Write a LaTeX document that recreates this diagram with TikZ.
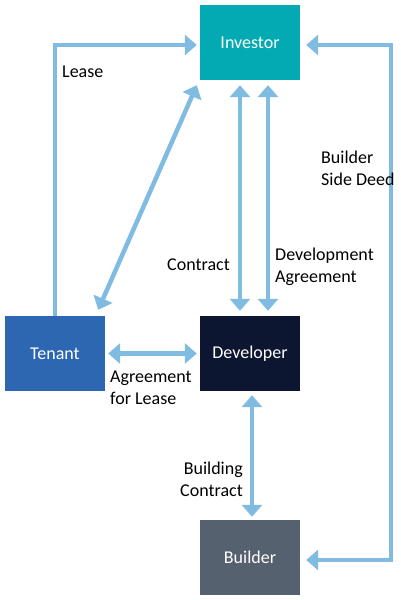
\documentclass[tikz,border=0pt]{standalone}
\usepackage{fontspec}
\setmainfont{Carlito}
\usetikzlibrary{arrows.meta,calc}
\definecolor{arrowblue}{HTML}{80BBE2}
\definecolor{investorc}{HTML}{03AAB4}
\definecolor{tenantc}{HTML}{2D67B2}
\definecolor{developerc}{HTML}{0C1631}
\definecolor{builderc}{HTML}{56616F}
\begin{document}
\begin{tikzpicture}[x=1pt,y={(0pt,-1pt)},
  box/.style={minimum width=100pt,minimum height=75pt,inner sep=0pt,text=white,font=\fontsize{18}{22}\selectfont},
  lbl/.style={inner sep=0pt,font=\fontsize{18}{22}\selectfont,text=black},
  conn/.style={draw=arrowblue,line width=4.5pt},
  tip/.tip={Triangle[width=20pt,length=12pt]},
  one/.style={conn,-tip},
  two/.style={conn,tip-tip}]
\useasboundingbox (0,0) rectangle (400,600);
\node[box,fill=investorc] (investor) at (250,42.5) {Investor};
\node[box,fill=tenantc] (tenant) at (55,353.5) {Tenant};
\node[box,fill=developerc] (developer) at (250,353.5) {Developer};
\node[box,fill=builderc] (builder) at (250,557.5) {Builder};
\coordinate (rc) at (391,45);
% Lease
\draw[one] (tenant.north) |- ($(investor.west)+(-3,2.5)$);
% Builder side deed
\draw[two] ($(investor.east)+(6,2.5)$) -- (rc) |- ($(builder.east)+(6,2.5)$);
% diagonal
\draw[two] ($(tenant.north east)+(-7,-6)$) -- ($(investor.south west)+(-3,5)$);
% contract / development agreement
\draw[two] ($(investor.south)+(-10,5)$) -- ($(developer.north)+(-10,-5)$);
\draw[two] ($(investor.south)+(18,5)$) -- ($(developer.north)+(18,-5)$);
% agreement for lease
\draw[two] ($(tenant.east)+(3,0)$) -- ($(developer.west)+(-3,0)$);
% building contract
\draw[two] ($(developer.south)+(2,4)$) -- ($(builder.north)+(2,-3)$);
% labels
\node[lbl,anchor=west] (llease) at (62,72) {Lease};
\node[lbl,anchor=west,align=left] (lbsd) at (321,168) {Builder\\Side Deed};
\node[lbl,anchor=east] (lcontract) at (230,265) {Contract};
\node[lbl,anchor=west,align=left] (lda) at (275,267) {Development\\Agreement};
\node[lbl,anchor=west,align=left] (lafl) at (110,388) {Agreement\\for Lease};
\node[lbl,anchor=east,align=right] (lbc) at (243,479.5) {Building\\Contract};
\end{tikzpicture}
\end{document}
